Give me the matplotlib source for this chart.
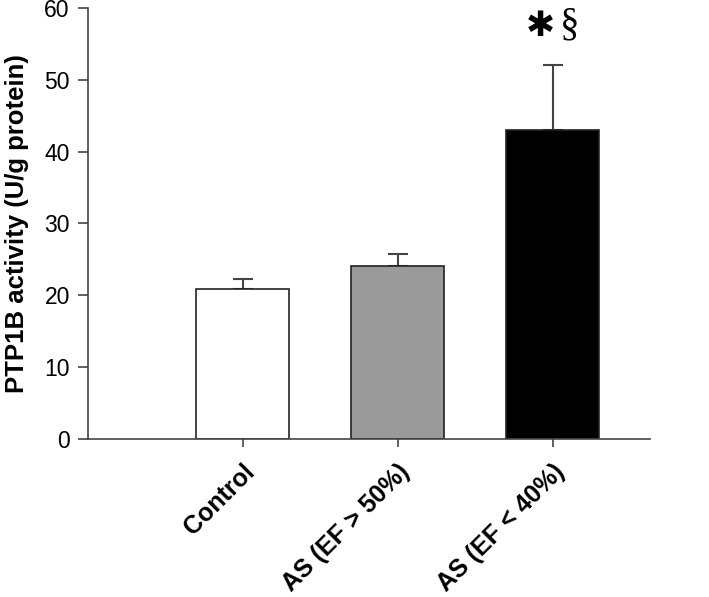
import matplotlib
matplotlib.use('Agg')
import matplotlib.pyplot as plt

groups = ['Control', 'AS (EF > 50%)', 'AS (EF < 40%)']
activity = [20.9, 24.1, 43.0]
sem = [1.3, 1.6, 9.1]
colors = ['white', '#9a9a9a', 'black']

plt.rcParams['font.family'] = ['Liberation Sans', 'DejaVu Sans']
axis_col = '#444444'

fig = plt.figure(figsize=(7.09, 5.97), dpi=100)
ax = fig.add_axes([0.124, 0.265, 0.793, 0.7215])

x = list(range(len(groups)))
ax.bar(x, activity, width=0.6, color=colors, edgecolor='#222222', linewidth=1.2, zorder=2)
ax.errorbar(x, activity, yerr=[[0] * len(sem), sem], fmt='none', ecolor=axis_col,
            elinewidth=1.5, capsize=7, capthick=1.5, zorder=1)

# significance marks above the last bar
ax.text(1.92, 57.5, '\u2731', ha='center', va='center', fontsize=25, family='DejaVu Sans')
ax.text(2.11, 57.6, '§', ha='center', va='center', fontsize=28, family='Liberation Serif')

ax.set_xlim(-1, 2.63)
ax.set_ylim(0, 60)
ax.set_yticks(range(0, 61, 10))
ax.set_xticks(x)
ax.set_xticklabels(groups, rotation=45, ha='right', rotation_mode='anchor',
                   fontsize=18, fontweight='bold')
ax.tick_params(axis='y', labelsize=16.5, direction='out', length=7, width=1.2, color=axis_col, pad=6)
ax.tick_params(axis='x', direction='out', length=6, width=1.2, color=axis_col, pad=9)
ax.set_ylabel('PTP1B activity (U/g protein)', fontsize=18.5, fontweight='bold', labelpad=11)

for side in ['top', 'right']:
    ax.spines[side].set_visible(False)
for side in ['left', 'bottom']:
    ax.spines[side].set_color(axis_col)
    ax.spines[side].set_linewidth(1.2)

plt.savefig('out.png', dpi=100)
